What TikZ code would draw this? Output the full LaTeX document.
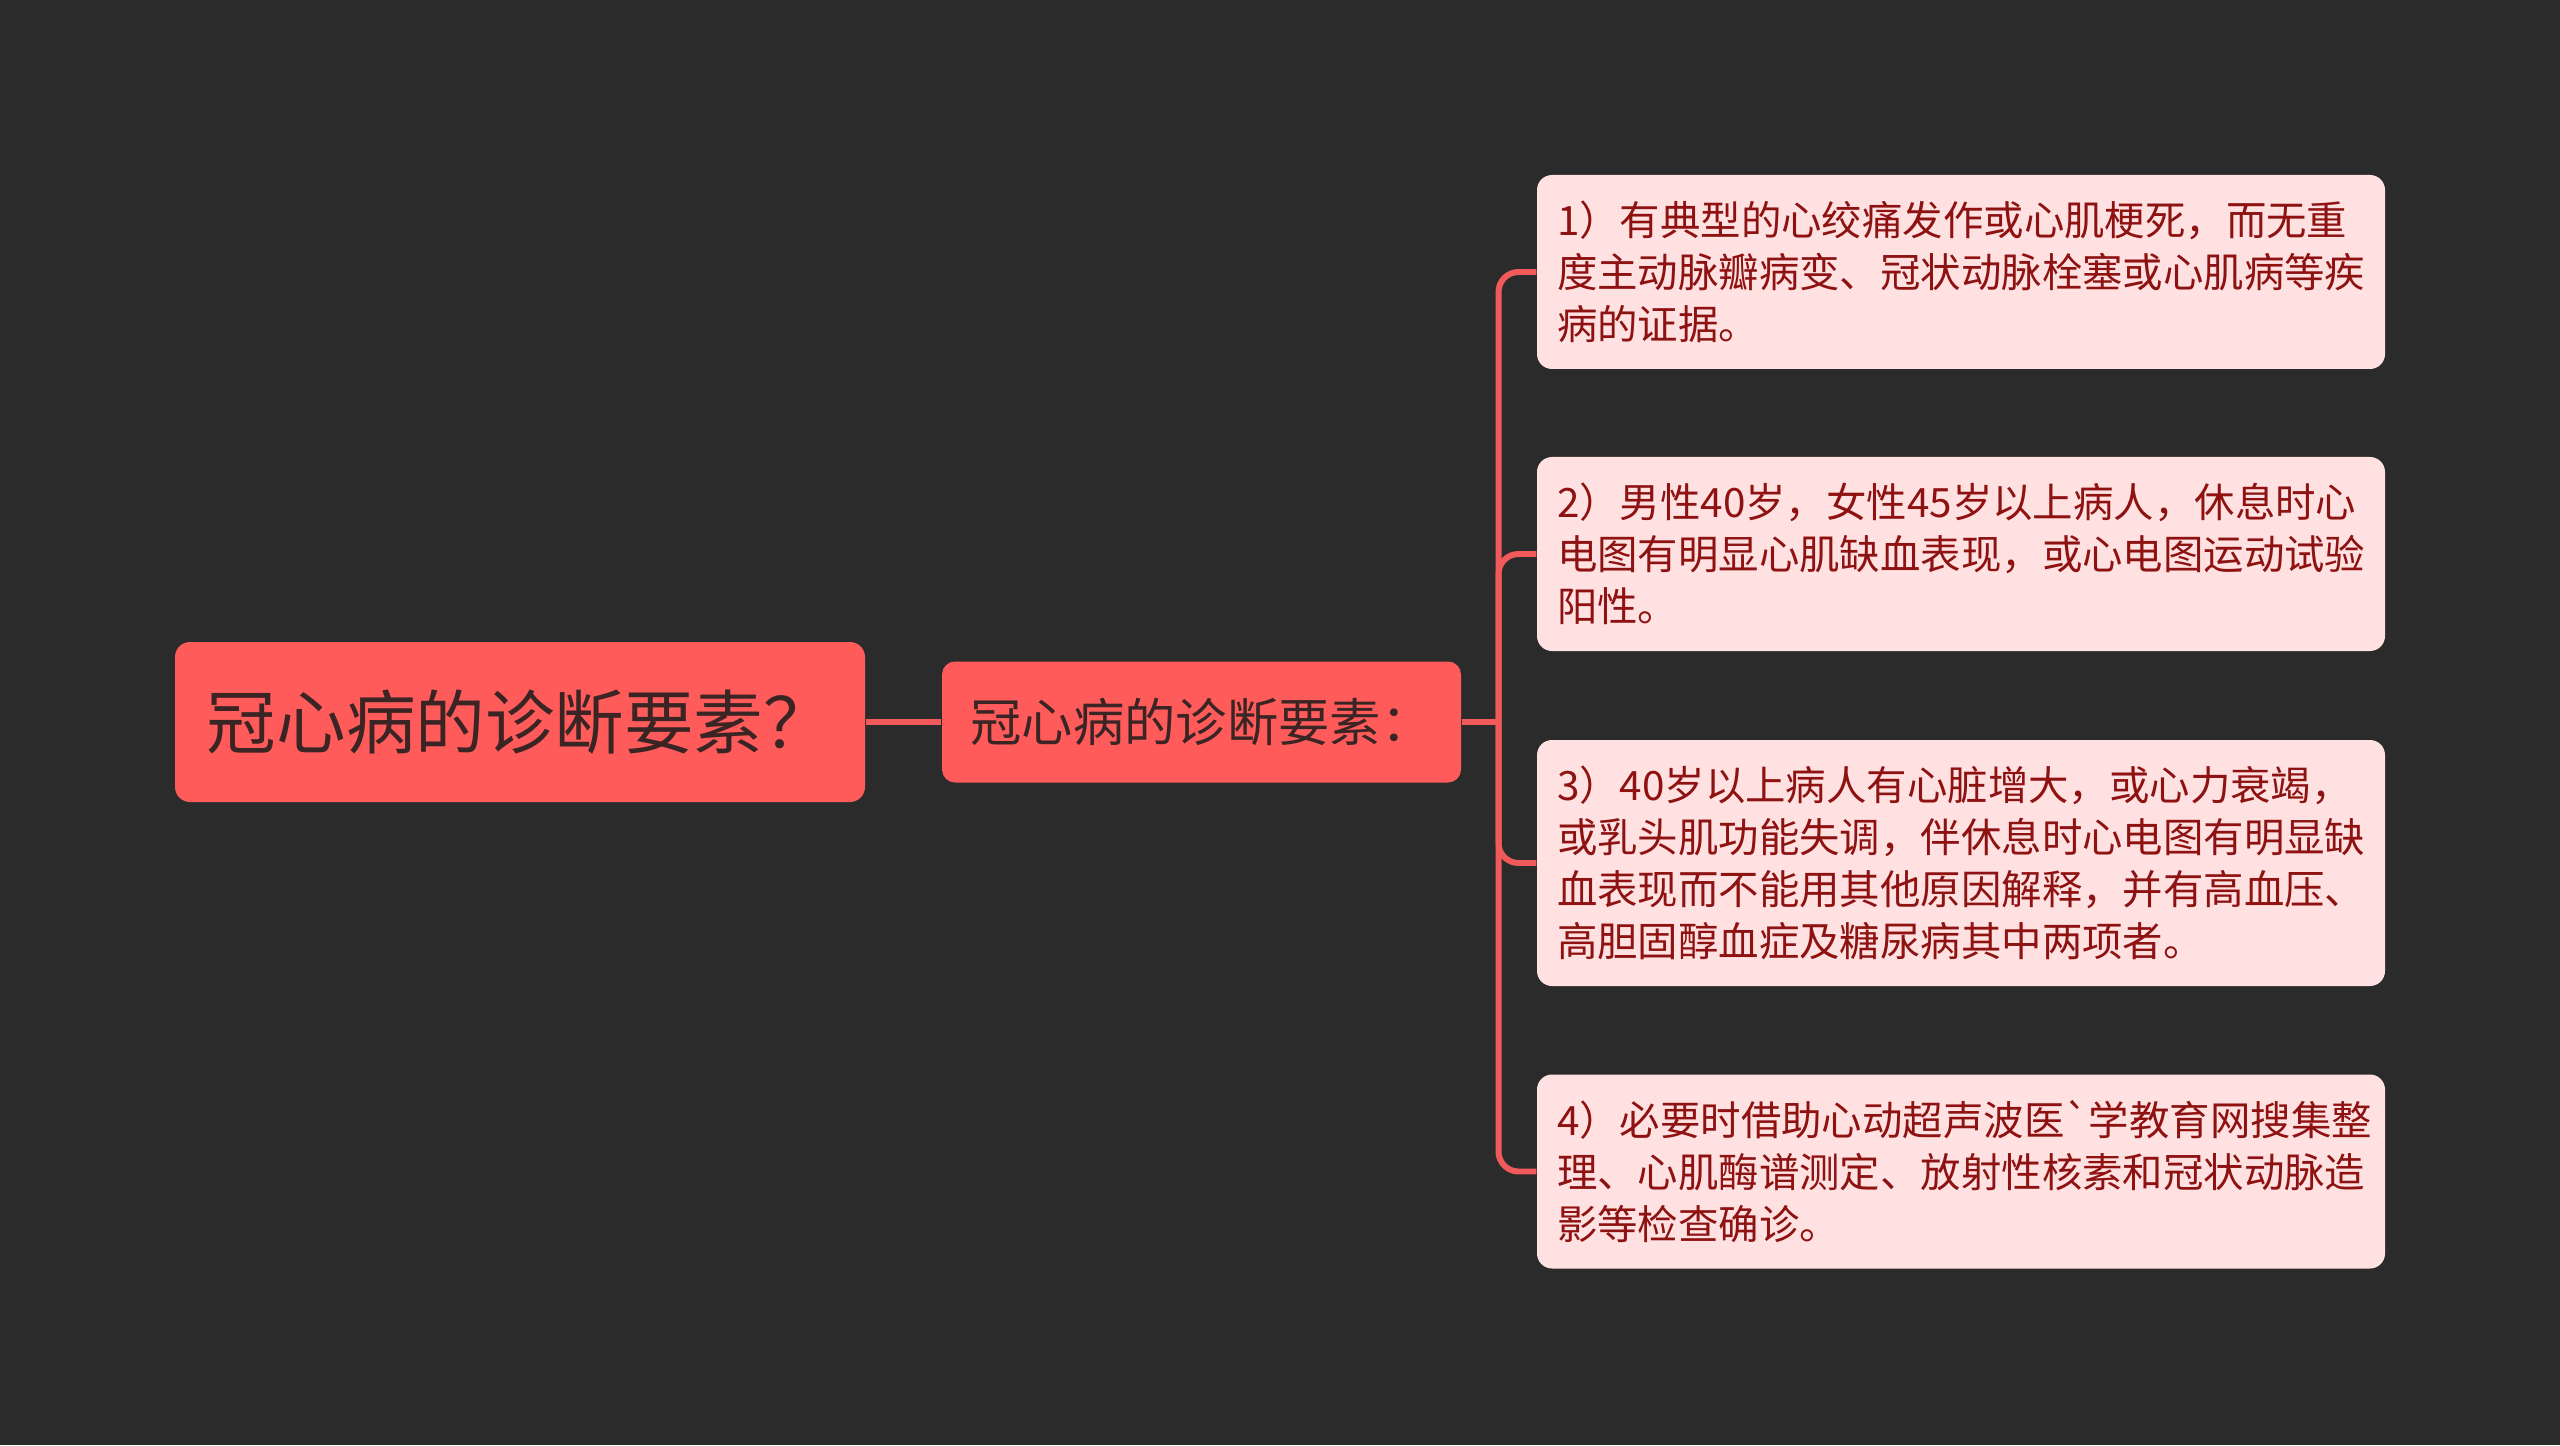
\documentclass[tikz,border=0pt]{standalone}
\usepackage{fontspec}
\setmainfont{Noto Sans CJK SC}
\newfontfamily\cjk{Noto Sans CJK SC}
\definecolor{bgdark}{HTML}{2B2B2B}
\definecolor{rootred}{HTML}{FF5B5B}
\definecolor{rootink}{HTML}{3A2424}
\definecolor{leafpink}{HTML}{FFE1E1}
\definecolor{leafink}{HTML}{8E1212}
\definecolor{linkred}{HTML}{F05A5A}
\begin{document}
\begin{tikzpicture}[x=1cm,y=1cm,
  rootbox/.style={fill=rootred, text=rootink, rounded corners=0.15cm, inner sep=0pt,
    minimum width=6.90cm, minimum height=1.60cm, font=\cjk\fontsize{19.8pt}{23pt}\selectfont},
  midbox/.style={fill=rootred, text=rootink, rounded corners=0.13cm, inner sep=0pt,
    minimum width=5.19cm, minimum height=1.21cm, font=\cjk\fontsize{14.6pt}{17pt}\selectfont},
  leafbox/.style={fill=leafpink, text=leafink, rounded corners=0.15cm, inner sep=0.2cm,
    text width=8.08cm, align=left, minimum height=1.94cm,
    font=\cjk\fontsize{11.5pt}{14.8pt}\selectfont},
  link/.style={draw=linkred, line width=1.7pt}]
\fill[bgdark] (0,0) rectangle (25.6,14.45);

\node[rootbox] (root) at (5.20,7.23) {冠心病的诊断要素？};
\node[midbox] (mid) at (12.015,7.23) {冠心病的诊断要素：};
\coordinate (fork) at (14.985,7.23);

\node[leafbox] (l1) at (19.61,11.73)
{1）有典型的心绞痛发作或心肌梗死，而无重\\度主动脉瓣病变、冠状动脉栓塞或心肌病等疾\\病的证据。};
\node[leafbox] (l2) at (19.61,8.91)
{2）男性40岁，女性45岁以上病人，休息时心\\电图有明显心肌缺血表现，或心电图运动试验\\阳性。};
\node[leafbox, minimum height=2.46cm] (l3) at (19.61,5.82)
{3）40岁以上病人有心脏增大，或心力衰竭，\\或乳头肌功能失调，伴休息时心电图有明显缺\\血表现而不能用其他原因解释，并有高血压、\\高胆固醇血症及糖尿病其中两项者。};
\node[leafbox] (l4) at (19.61,2.735)
{4）必要时借助心动超声波医`学教育网搜集整\\理、心肌酶谱测定、放射性核素和冠状动脉造\\影等检查确诊。};

\draw[link] (root) -- (mid);
\draw[link] (mid) -- (fork);
\draw[link, rounded corners=0.2cm] (fork) |- (l1);
\draw[link, rounded corners=0.2cm] (fork) |- (l2);
\draw[link, rounded corners=0.2cm] (fork) |- (l3);
\draw[link, rounded corners=0.2cm] (fork) |- (l4);
\end{tikzpicture}
\end{document}
